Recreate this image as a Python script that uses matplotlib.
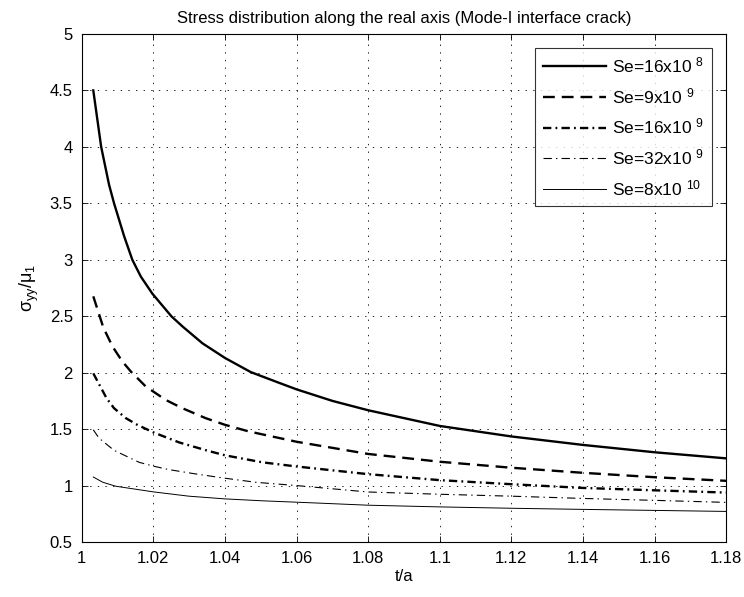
import matplotlib
matplotlib.use("Agg")
import matplotlib.pyplot as plt

plt.rcParams['font.family'] = ['Liberation Sans', 'DejaVu Sans']
plt.rcParams['mathtext.fontset'] = 'custom'
plt.rcParams['mathtext.rm'] = 'Liberation Sans'
plt.rcParams['mathtext.it'] = 'Liberation Sans'
plt.rcParams['mathtext.default'] = 'regular'
plt.rcParams['lines.scale_dashes'] = False

# t/a positions and normalised stress sigma_yy/mu_1 for each elastic parameter
t_a = [1.0032, 1.0054, 1.0076, 1.0090, 1.0118, 1.0141, 1.0165, 1.0197, 1.0250,
       1.0281, 1.0337, 1.0400, 1.0472, 1.0551, 1.0600, 1.0700, 1.0800, 1.1000,
       1.1200, 1.1400, 1.1600, 1.1800]
s_a = [4.50, 4.00, 3.665, 3.50, 3.21, 3.00, 2.85, 2.70, 2.50,
       2.41, 2.26, 2.13, 2.005, 1.91, 1.852, 1.75, 1.667, 1.528,
       1.435, 1.36, 1.295, 1.241]

t_b = [1.0032, 1.0060, 1.0086, 1.0113, 1.0137, 1.0179, 1.0200, 1.0234, 1.0281,
       1.0346, 1.0400, 1.0467, 1.0600, 1.0800, 1.1000, 1.1200, 1.1400, 1.1600,
       1.1800]
s_b = [2.676, 2.40, 2.23, 2.10, 2.01, 1.876, 1.832, 1.759, 1.685,
       1.597, 1.538, 1.479, 1.388, 1.28, 1.211, 1.158, 1.113, 1.074,
       1.042]

t_c = [1.0032, 1.0069, 1.0090, 1.0123, 1.0155, 1.0200, 1.0272, 1.0351, 1.0400,
       1.0504, 1.0600, 1.0800, 1.1000, 1.1200, 1.1400, 1.1600, 1.1800]
s_c = [1.994, 1.774, 1.685, 1.597, 1.538, 1.471, 1.382, 1.309, 1.268,
       1.206, 1.169, 1.101, 1.048, 1.012, 0.979, 0.958, 0.938]

t_d = [1.0032, 1.0048, 1.0090, 1.0160, 1.0200, 1.0244, 1.0318, 1.0400, 1.0486,
       1.0600, 1.0800, 1.1000, 1.1200, 1.1400, 1.1600, 1.1800]
s_d = [1.494, 1.42, 1.312, 1.206, 1.172, 1.141, 1.103, 1.065, 1.029,
       1.00, 0.943, 0.923, 0.906, 0.886, 0.869, 0.851]

t_e = [1.0032, 1.0058, 1.0095, 1.0200, 1.0299, 1.0400, 1.0504, 1.0644, 1.0800,
       1.1000, 1.1200, 1.1400, 1.1600, 1.1800]
s_e = [1.076, 1.03, 0.994, 0.944, 0.906, 0.882, 0.865, 0.847, 0.826,
       0.811, 0.799, 0.789, 0.780, 0.771]

labels = ['Se=16x10 $^{8}$', 'Se=9x10 $^{9}$', 'Se=16x10 $^{9}$',
          'Se=32x10 $^{9}$', 'Se=8x10 $^{10}$']

x_ticks = [1, 1.02, 1.04, 1.06, 1.08, 1.1, 1.12, 1.14, 1.16, 1.18]
x_ticklabels = ['1', '1.02', '1.04', '1.06', '1.08', '1.1', '1.12', '1.14', '1.16', '1.18']
y_ticks = [0.5, 1, 1.5, 2, 2.5, 3, 3.5, 4, 4.5, 5]
y_ticklabels = ['0.5', '1', '1.5', '2', '2.5', '3', '3.5', '4', '4.5', '5']

fig = plt.figure(figsize=(7.44, 5.97), dpi=100)
ax = fig.add_axes([0.110, 0.0921, 0.866, 0.851])

ax.plot(t_a, s_a, color='k', lw=1.7, linestyle='-', label=labels[0])
ax.plot(t_b, s_b, color='k', lw=1.7, linestyle=(0, (8.5, 5.0)), label=labels[1])
ax.plot(t_c, s_c, color='k', lw=1.7, linestyle=(0, (6.0, 3.0, 1.3, 3.0)), label=labels[2])
ax.plot(t_d, s_d, color='k', lw=0.8, linestyle=(0, (6.0, 3.0, 1.0, 3.0)), label=labels[3])
ax.plot(t_e, s_e, color='k', lw=0.7, linestyle='-', label=labels[4])

ax.set_xlim(1, 1.18)
ax.set_ylim(0.5, 5)
ax.set_xticks(x_ticks)
ax.set_xticklabels(x_ticklabels)
ax.set_yticks(y_ticks)
ax.set_yticklabels(y_ticklabels)

ax.grid(True, color='k', linestyle=(0, (1, 4.5)), linewidth=0.6)
ax.tick_params(direction='in', length=4, width=0.6, top=True, right=True,
               labelsize=12, pad=6.5)
for sp in ax.spines.values():
    sp.set_linewidth(0.8)

ax.set_title('Stress distribution along the real axis (Mode-I interface crack)',
             fontsize=12, pad=8)
ax.set_xlabel('t/a', fontsize=12, labelpad=2)
ax.set_ylabel('σ$_{yy}$/μ$_{1}$', fontsize=13, labelpad=6)

leg = ax.legend(loc='upper right', fontsize=12.5, frameon=True, fancybox=False,
                edgecolor='k', handlelength=3.6, handletextpad=0.4,
                borderaxespad=0.8, labelspacing=0.62, borderpad=0.45)
leg.get_frame().set_linewidth(0.8)

fig.savefig('out.png', dpi=100, facecolor='white')
